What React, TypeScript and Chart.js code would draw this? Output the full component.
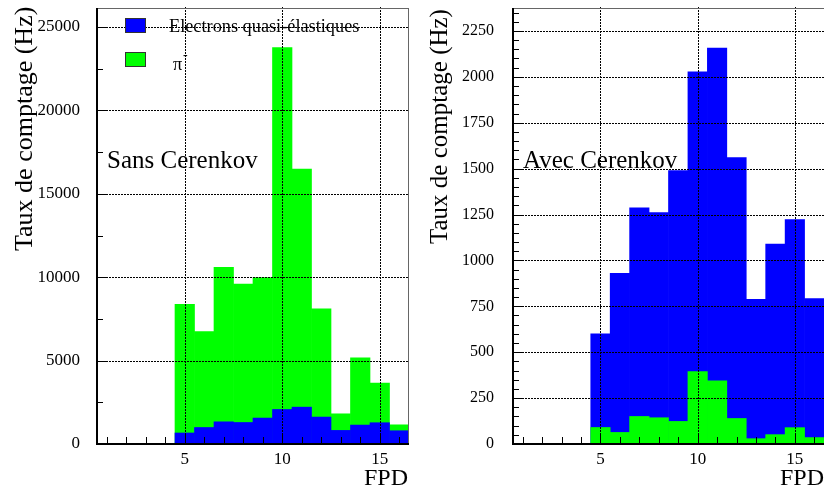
import React, { useEffect, useRef } from "react";
import { Chart, registerables } from "chart.js";

Chart.register(...registerables);

// ---------- data ----------
const BINS = [1, 2, 3, 4, 5, 6, 7, 8, 9, 10, 11, 12, 13, 14, 15, 16];

// Left panel: "Sans Cerenkov"
const LEFT_PION = [0, 0, 0, 0, 8370, 6735, 10590, 9590, 9980, 23760, 16480, 8110, 1810, 5160, 3650, 1150];
const LEFT_ELECTRON = [0, 0, 0, 0, 660, 990, 1330, 1290, 1555, 2070, 2210, 1615, 815, 1135, 1275, 795];

// Right panel: "Avec Cerenkov"
const RIGHT_ELECTRON = [0, 0, 0, 0, 600, 930, 1287, 1260, 1490, 2027, 2157, 1560, 788, 1089, 1222, 792];
const RIGHT_PION = [0, 0, 0, 0, 90, 63, 150, 143, 123, 394, 344, 139, 29, 51, 89, 35];

const X_TICKS = [5, 10, 15];
const LEFT_Y_TICKS = [0, 5000, 10000, 15000, 20000, 25000];
const RIGHT_Y_TICKS = [0, 250, 500, 750, 1000, 1250, 1500, 1750, 2000, 2250];
const LEFT_Y_MAX = 26140;
const RIGHT_Y_MAX = 2375;
const LEFT_Y_MINOR = 2500;
const RIGHT_Y_MINOR = 50;

const SERIES_ELECTRON = "Electrons quasi-élastiques";
const SERIES_PION = "π";
const Y_TITLE = "Taux de comptage (Hz)";
const X_TITLE = "FPD";

const BLUE = "#0000ff";
const GREEN = "#00ff00";
const FONT = "'Liberation Serif', 'Times New Roman', serif";

function dottedV(ctx: any, x: number, y0: number, y1: number) {
  for (let y = y0; y >= y1; y -= 3) ctx.fillRect(x, y - 2, 1, 2);
}
function dottedH(ctx: any, y: number, x0: number, x1: number) {
  for (let x = x0; x <= x1; x += 3) ctx.fillRect(x, y, 2, 1);
}

// ---------- decoration plugin (ROOT-like frame, grid, ticks, texts) ----------
const decor = {
  id: "rootDecor",
  afterDraw(chart: any, _args: any, o: any) {
    const { ctx, chartArea: a, scales } = chart;
    const xs = scales.x;
    const ys = scales.y;
    ctx.save();
    // dotted grid (drawn over the bars)
    ctx.fillStyle = "#000000";
    for (const v of X_TICKS) {
      const px = Math.round(xs.getPixelForValue(v));
      dottedV(ctx, px, Math.round(a.bottom), Math.round(a.top));
    }
    for (const v of o.yTicks) {
      if (v === 0) continue;
      const py = Math.round(ys.getPixelForValue(v));
      dottedH(ctx, py, Math.round(a.left), Math.round(a.right) - 1);
    }
    // x tick marks
    for (const b of BINS) {
      const px = Math.round(xs.getPixelForValue(b));
      const len = X_TICKS.includes(b) ? 11 : 7;
      ctx.fillRect(px, Math.round(a.bottom) - len, 1, len);
    }
    // y tick marks
    for (let v = 0; v <= ys.max; v += o.yMinor) {
      const py = Math.round(ys.getPixelForValue(v));
      const len = o.yTicks.includes(v) ? 11 : 6;
      ctx.fillRect(Math.round(a.left), py, len, 1);
    }
    // frame top / right
    ctx.fillStyle = "#666";
    ctx.fillRect(a.left, a.top, a.right - a.left, 1);
    if (o.rightFrame) ctx.fillRect(a.right - 1, a.top, 1, a.bottom - a.top);
    // axes
    ctx.fillStyle = "#000";
    ctx.fillRect(a.left - 1, a.top, 2, a.bottom - a.top + 1);
    ctx.fillRect(a.left - 1, a.bottom - 1, a.right - a.left + 1, 2);

    // legend
    if (o.legend) {
      ctx.lineWidth = 1;
      ctx.strokeStyle = "#333";
      ctx.fillStyle = BLUE;
      ctx.fillRect(125, 18, 21, 15);
      ctx.strokeRect(125.5, 18.5, 20, 14);
      ctx.fillStyle = GREEN;
      ctx.fillRect(125, 52, 21, 15);
      ctx.strokeRect(125.5, 52.5, 20, 14);
      ctx.fillStyle = "#000";
      ctx.textAlign = "left";
      ctx.textBaseline = "alphabetic";
      ctx.font = `18.3px ${FONT}`;
      ctx.fillText(SERIES_ELECTRON, 169, 32);
      ctx.fillText(SERIES_PION, 173, 70);
      ctx.font = `14px ${FONT}`;
      ctx.fillText("-", 183, 59);
    }

    // panel label
    ctx.fillStyle = "#000";
    ctx.textAlign = "left";
    ctx.textBaseline = "alphabetic";
    ctx.font = `25px ${FONT}`;
    ctx.fillText(o.label, o.labelX, 168);

    // x title
    ctx.font = `24px ${FONT}`;
    ctx.textAlign = "right";
    ctx.fillText(X_TITLE, o.xTitleRight, 485);

    // y title
    ctx.save();
    ctx.translate(o.yTitleX, o.yTitleY);
    ctx.rotate(-Math.PI / 2);
    ctx.textAlign = "left";
    ctx.font = `${o.yTitleSize}px ${FONT}`;
    ctx.fillText(Y_TITLE, 0, 0);
    ctx.restore();

    ctx.restore();
  },
};

function makeConfig(p: any) {
  return {
    type: "bar",
    data: {
      datasets: [
        {
          label: p.frontLabel,
          data: BINS.map((b, i) => ({ x: b, y: p.front[i] })),
          backgroundColor: p.frontColor,
          borderWidth: 0,
          order: 0,
          grouped: false,
          barPercentage: 1,
          categoryPercentage: 1,
        },
        {
          label: p.backLabel,
          data: BINS.map((b, i) => ({ x: b, y: p.back[i] })),
          backgroundColor: p.backColor,
          borderWidth: 0,
          order: 1,
          grouped: false,
          barPercentage: 1,
          categoryPercentage: 1,
        },
      ],
    },
    options: {
      animation: false,
      responsive: false,
      devicePixelRatio: 1,
      layout: { padding: { top: 8, right: p.padRight, left: 0, bottom: 0 } },
      plugins: {
        legend: { display: false },
        tooltip: { enabled: false },
        rootDecor: p.decor,
      },
      scales: {
        x: {
          type: "linear",
          min: 0.5,
          max: 16.5,
          offset: false,
          grid: { display: false, drawTicks: false },
          border: { display: false },
          ticks: {
            autoSkip: false,
            maxRotation: 0,
            padding: 5,
            color: "#000",
            font: { family: FONT, size: 17 },
            callback: (v: any) => String(v),
          },
          afterBuildTicks: (s: any) => {
            s.ticks = X_TICKS.map((v) => ({ value: v }));
          },
          afterFit: (s: any) => {
            s.height = 47;
            s.paddingLeft = 0;
            s.paddingRight = 0;
          },
        },
        y: {
          type: "linear",
          min: 0,
          max: p.yMax,
          grid: { display: false, drawTicks: false },
          border: { display: false },
          ticks: {
            autoSkip: false,
            padding: p.yPad,
            color: "#000",
            font: { family: FONT, size: p.yFont },
            callback: (v: any) => String(v),
          },
          afterBuildTicks: (s: any) => {
            s.ticks = p.yTicks.map((v: number) => ({ value: v }));
          },
          afterFit: (s: any) => {
            s.width = p.yWidth;
            s.paddingTop = 0;
            s.paddingBottom = 0;
          },
        },
      },
    },
    plugins: [decor],
  };
}

function Panel({ cfg }: { cfg: any }) {
  const ref = useRef<HTMLCanvasElement>(null);
  useEffect(() => {
    const chart = new Chart(ref.current as HTMLCanvasElement, makeConfig(cfg) as any);
    return () => chart.destroy();
  }, []);
  return (
    <canvas
      ref={ref}
      width={412}
      height={491}
      style={{ display: "block", width: 412, height: 491 }}
    />
  );
}

const leftCfg = {
  front: LEFT_ELECTRON,
  frontLabel: SERIES_ELECTRON,
  frontColor: BLUE,
  back: LEFT_PION,
  backLabel: SERIES_PION,
  backColor: GREEN,
  yMax: LEFT_Y_MAX,
  yTicks: LEFT_Y_TICKS,
  yFont: 17,
  yPad: 17,
  yWidth: 97,
  padRight: 3,
  decor: {
    yTicks: LEFT_Y_TICKS,
    yMinor: LEFT_Y_MINOR,
    rightFrame: true,
    legend: true,
    label: "Sans Cerenkov",
    labelX: 107,
    xTitleRight: 408,
    yTitleX: 32,
    yTitleY: 251,
    yTitleSize: 26,
  },
};

const rightCfg = {
  front: RIGHT_PION,
  frontLabel: SERIES_PION,
  frontColor: GREEN,
  back: RIGHT_ELECTRON,
  backLabel: SERIES_ELECTRON,
  backColor: BLUE,
  yMax: RIGHT_Y_MAX,
  yTicks: RIGHT_Y_TICKS,
  yFont: 16,
  yPad: 19,
  yWidth: 101,
  padRight: 0,
  decor: {
    yTicks: RIGHT_Y_TICKS,
    yMinor: RIGHT_Y_MINOR,
    rightFrame: false,
    legend: false,
    label: "Avec Cerenkov",
    labelX: 111,
    xTitleRight: 412,
    yTitleX: 35,
    yTitleY: 244,
    yTitleSize: 25,
  },
};

export default function App() {
  return (
    <div
      style={{
        position: "absolute",
        left: 0,
        top: 0,
        width: 824,
        height: 491,
        display: "flex",
        background: "#fff",
        overflow: "hidden",
      }}
    >
      <Panel cfg={leftCfg} />
      <Panel cfg={rightCfg} />
    </div>
  );
}
